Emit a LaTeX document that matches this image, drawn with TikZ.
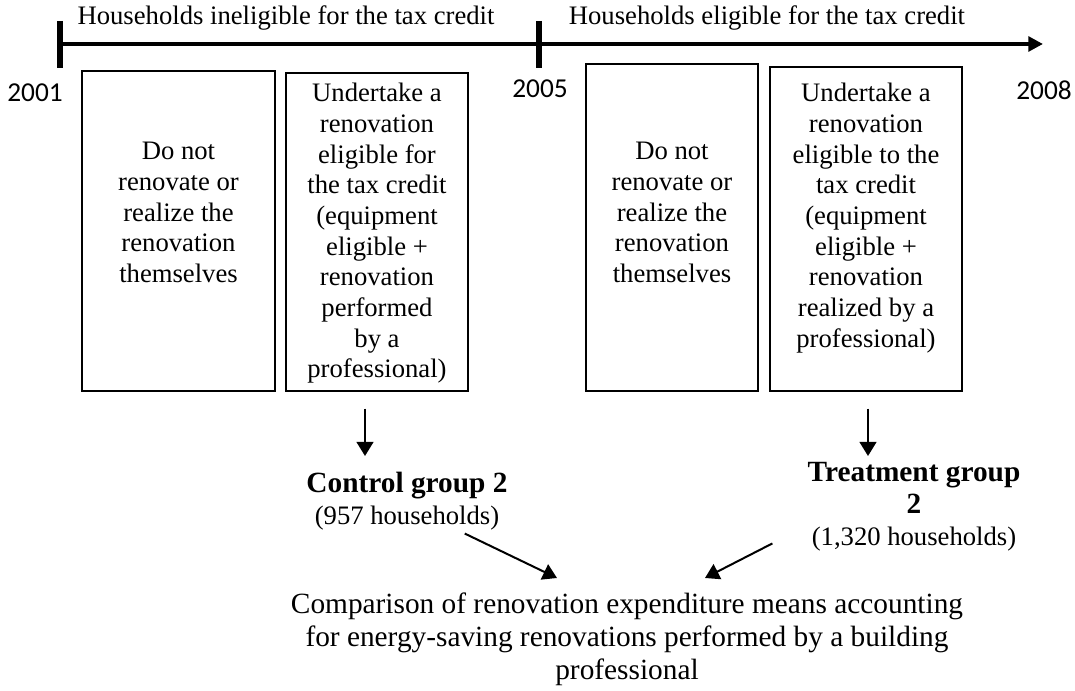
\documentclass[tikz,border=0pt]{standalone}
\usepackage{fontspec}
\setmainfont{Liberation Serif}
\newfontfamily\yearfont{Carlito}
\usetikzlibrary{calc}
\usetikzlibrary{arrows.meta}
\usetikzlibrary{fit}
\newcommand{\grouptitle}[1]{{\fontsize{22}{24}\selectfont\bfseries #1}}
\tikzset{panel/.style={draw, line width=.8pt, inner sep=0pt}}
\tikzset{paneltext/.style={align=center, anchor=north, inner sep=0pt, font=\fontsize{20}{23}\selectfont}}
\tikzset{grouplabel/.style={align=center, anchor=north, inner sep=0pt, font=\fontsize{20}{24}\selectfont}}
\tikzset{flow/.style={line width=1.5pt, -{Triangle[length=10.5pt,width=12.5pt]}}}

\begin{document}
\begin{tikzpicture}[x=.75pt,y=-.75pt]
  \useasboundingbox (0,0) rectangle (1075,691);
  \coordinate (t0) at (60,44);
  \coordinate (t1) at (539,44);
  \coordinate (tend) at (1043,44);
  \draw[line width=3pt, -{Triangle[length=11pt,width=11pt]}] (t0) -- (tend);
  \foreach \t in {t0,t1} {
    \draw[line width=4pt] ($(\t)+(0,-23)$) -- ($(\t)+(0,24)$);
  }
  \node[anchor=base, inner sep=0pt, font=\fontsize{20}{23}\selectfont] (inel) at (286,25) {Households ineligible for the tax credit};
  \node[anchor=base, inner sep=0pt, font=\fontsize{20}{23}\selectfont] (elig) at (767,25) {Households eligible for the tax credit};
  \foreach \n/\x/\y/\s in {
    y1/35/102/2001,
    y5/540/98/2005,
    y8/1044/100/2008%
  } {
    \node[anchor=base, inner sep=0pt, font=\yearfont\fontsize{20.5}{24}\selectfont] (\n) at (\x,\y) {\s};
  }
  \foreach \n/\l/\t/\r in {
    b1/82/71/275,
    b2/286/73/468,
    b3/586/64/758,
    b4/770/67/962%
  } {
    \node[panel, fit={(\l,\t) (\r,391)}] (\n) {};
  }
  \node[paneltext] (d1) at (178.5,142) {Do not\\renovate or\\realize the\\renovation\\themselves};
  \node[paneltext] (u1) at (377,83) {Undertake a\\renovation\\eligible for\\the tax credit\\(equipment\\eligible +\\renovation\\performed\\by a\\professional)};
  \node[paneltext] (d2) at (672,142) {Do not\\renovate or\\realize the\\renovation\\themselves};
  \node[paneltext] (u2) at (866,83) {Undertake a\\renovation\\eligible to the\\tax credit\\(equipment\\eligible +\\renovation\\realized by a\\professional)};
  \node[grouplabel] (ctl) at (407,472) {\grouptitle{Control group 2}\\(957 households)};
  \node[grouplabel] (trt) at (914,462) {\grouptitle{Treatment group}\\\grouptitle{2}\\(1,320 households)};
  \node[anchor=north, align=center, inner sep=0pt, font=\fontsize{22}{24.75}\selectfont] (cmp) at (627,593) {Comparison of renovation expenditure means accounting\\for energy-saving renovations performed by a building\\professional};
  \draw[flow] ($(b2.south)+(-12,17)$) -- ($(ctl.north)+(-42,-16)$);
  \draw[flow] ($(b4.south)+(2,17)$) -- ($(trt.north)+(-46,-6)$);
  \draw[flow] ($(ctl.south east)+(-43,3)$) -- ($(cmp.north)+(-70,-15)$);
  \draw[flow] ($(trt.south west)+(-35,-8)$) -- ($(cmp.north)+(78,-15)$);
\end{tikzpicture}
\end{document}
